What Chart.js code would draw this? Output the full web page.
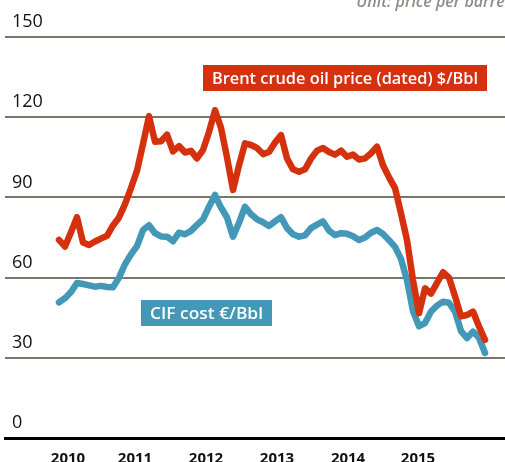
<!DOCTYPE html>
<html>
<head>
<meta charset="utf-8">
<script src="https://cdn.jsdelivr.net/npm/chart.js@4.4.1/dist/chart.umd.min.js"></script>
<style>
  html, body { margin: 0; padding: 0; background: #fff; overflow: hidden; }
  #wrap { width: 505px; height: 462px; overflow: hidden; }
  canvas { display: block; }
</style>
</head>
<body>
<div id="wrap"><canvas id="oilChart" width="505" height="470"></canvas></div>
<script>
// monthly values, Jan 2010 .. Dec 2015 (x = month index)
const brentUsd = [
  74.1, 71.6, 77.0, 82.6, 73.1, 72.2, 73.5, 74.6, 75.6, 79.5, 82.5, 87.5,
  93.5, 100.0, 110.0, 120.4, 110.8, 111.0, 113.5, 107.2, 109.2, 106.8, 107.4, 104.6,
  107.7, 114.5, 122.6, 116.0, 105.0, 92.8, 102.0, 110.2, 109.6, 108.5, 106.2, 107.0,
  110.5, 113.3, 104.6, 100.5, 99.6, 100.5, 104.5, 107.5, 108.5, 107.0, 106.0, 107.5,
  105.2, 106.0, 104.2, 104.6, 106.5, 109.0, 102.0, 97.5, 93.5, 84.0, 74.0, 59.0,
  46.7, 56.0, 54.0, 58.0, 62.0, 60.0, 53.0, 45.5, 46.0, 47.3, 41.7, 36.7
];
const cifEur = [
  50.7, 52.3, 54.6, 58.0, 57.6, 57.1, 56.6, 56.9, 56.5, 56.4, 60.0, 65.0,
  68.7, 71.8, 77.8, 79.6, 76.6, 75.4, 75.3, 73.6, 76.8, 76.2, 77.5, 79.7,
  81.8, 86.5, 90.9, 86.2, 82.5, 75.3, 80.5, 86.5, 83.7, 81.8, 80.7, 79.3,
  81.0, 82.6, 78.5, 76.2, 75.3, 75.8, 78.5, 79.8, 81.0, 77.6, 75.9, 76.6,
  76.4, 75.5, 74.1, 75.0, 76.8, 77.8, 76.3, 74.0, 71.5, 67.0, 59.0, 47.5,
  41.8, 43.0, 47.3, 49.5, 51.0, 50.6, 47.3, 40.0, 37.4, 39.8, 37.5, 31.8
];
const yearLabels = ['2010', '2011', '2012', '2013', '2014', '2015'];
const yearTickAt = [1.5, 12.67, 24.5, 36.33, 48.17, 59.83];
const priceTicks = [0, 30, 60, 90, 120, 150];

const RED = '#d5310f';
const BLUE = '#4398b7';
const GRID = '#7a7566';

const toPoints = arr => arr.map((v, i) => ({ x: i, y: v }));

function drawTag(ctx, text, x, y, w, h, bg, fontSize) {
  ctx.save();
  ctx.fillStyle = bg;
  ctx.fillRect(x, y, w, h);
  ctx.font = '600 ' + fontSize + 'px "Open Sans", sans-serif';
  const tw = ctx.measureText(text).width;
  const target = w - 18;
  ctx.fillStyle = '#fff';
  ctx.textBaseline = 'alphabetic';
  ctx.textAlign = 'left';
  ctx.translate(x + (w - target) / 2, y + h - 7.5);
  ctx.scale(target / tw, 1);
  ctx.fillText(text, 0, 0);
  ctx.restore();
}

const tagsPlugin = {
  id: 'tags',
  afterDatasetsDraw(chart) {
    const ctx = chart.ctx;
    drawTag(ctx, 'Brent crude oil price (dated) $/Bbl', 203, 65, 284, 26, RED, 17);
    drawTag(ctx, 'CIF cost €/Bbl', 141, 300, 131, 26, BLUE, 17);

    ctx.save();
    ctx.font = 'italic 600 16px "Open Sans", sans-serif';
    ctx.fillStyle = '#8e8e86';
    ctx.textAlign = 'right';
    ctx.textBaseline = 'alphabetic';
    ctx.fillText('Unit: price per barrel', 509, 7);
    ctx.restore();
  }
};

new Chart(document.getElementById('oilChart'), {
  type: 'line',
  data: {
    datasets: [
      {
        label: 'Brent crude oil price (dated) $/Bbl',
        data: toPoints(brentUsd),
        borderColor: RED,
        borderWidth: 6.5,
        pointRadius: 0,
        tension: 0,
        borderJoinStyle: 'round',
        borderCapStyle: 'round'
      },
      {
        label: 'CIF cost €/Bbl',
        data: toPoints(cifEur),
        borderColor: BLUE,
        borderWidth: 6.5,
        pointRadius: 0,
        tension: 0,
        borderJoinStyle: 'round',
        borderCapStyle: 'round'
      }
    ]
  },
  options: {
    responsive: false,
    animation: false,
    layout: { padding: { top: 37, left: 5, right: 0, bottom: 5 } },
    plugins: {
      legend: { display: false },
      tooltip: { enabled: false }
    },
    scales: {
      x: {
        type: 'linear',
        min: -9,
        max: 74.33,
        afterBuildTicks: axis => {
          axis.ticks = yearTickAt.map(v => ({ value: v }));
        },
        afterFit: axis => { axis.height = 27; },
        grid: { display: false, drawTicks: false },
        border: { display: true, color: '#000', width: 3 },
        ticks: {
          autoSkip: false,
          maxRotation: 0,
          padding: 12,
          color: '#111',
          font: { family: '"Open Sans", sans-serif', size: 15, weight: '700' },
          callback: (value, index) => yearLabels[index]
        }
      },
      y: {
        min: 0,
        max: 150,
        afterBuildTicks: axis => {
          axis.ticks = priceTicks.map(v => ({ value: v }));
        },
        afterFit: axis => { axis.width = 0; },
        grid: {
          drawTicks: false,
          lineWidth: 2,
          color: ctx => (ctx.tick && ctx.tick.value === 0 ? 'rgba(0,0,0,0)' : GRID)
        },
        border: { display: false },
        ticks: {
          mirror: true,
          padding: 7,
          labelOffset: -15,
          color: '#111',
          font: { family: '"Liberation Sans Narrow", "Open Sans", sans-serif', size: 18 }
        }
      }
    }
  },
  plugins: [tagsPlugin]
});
</script>
</body>
</html>
